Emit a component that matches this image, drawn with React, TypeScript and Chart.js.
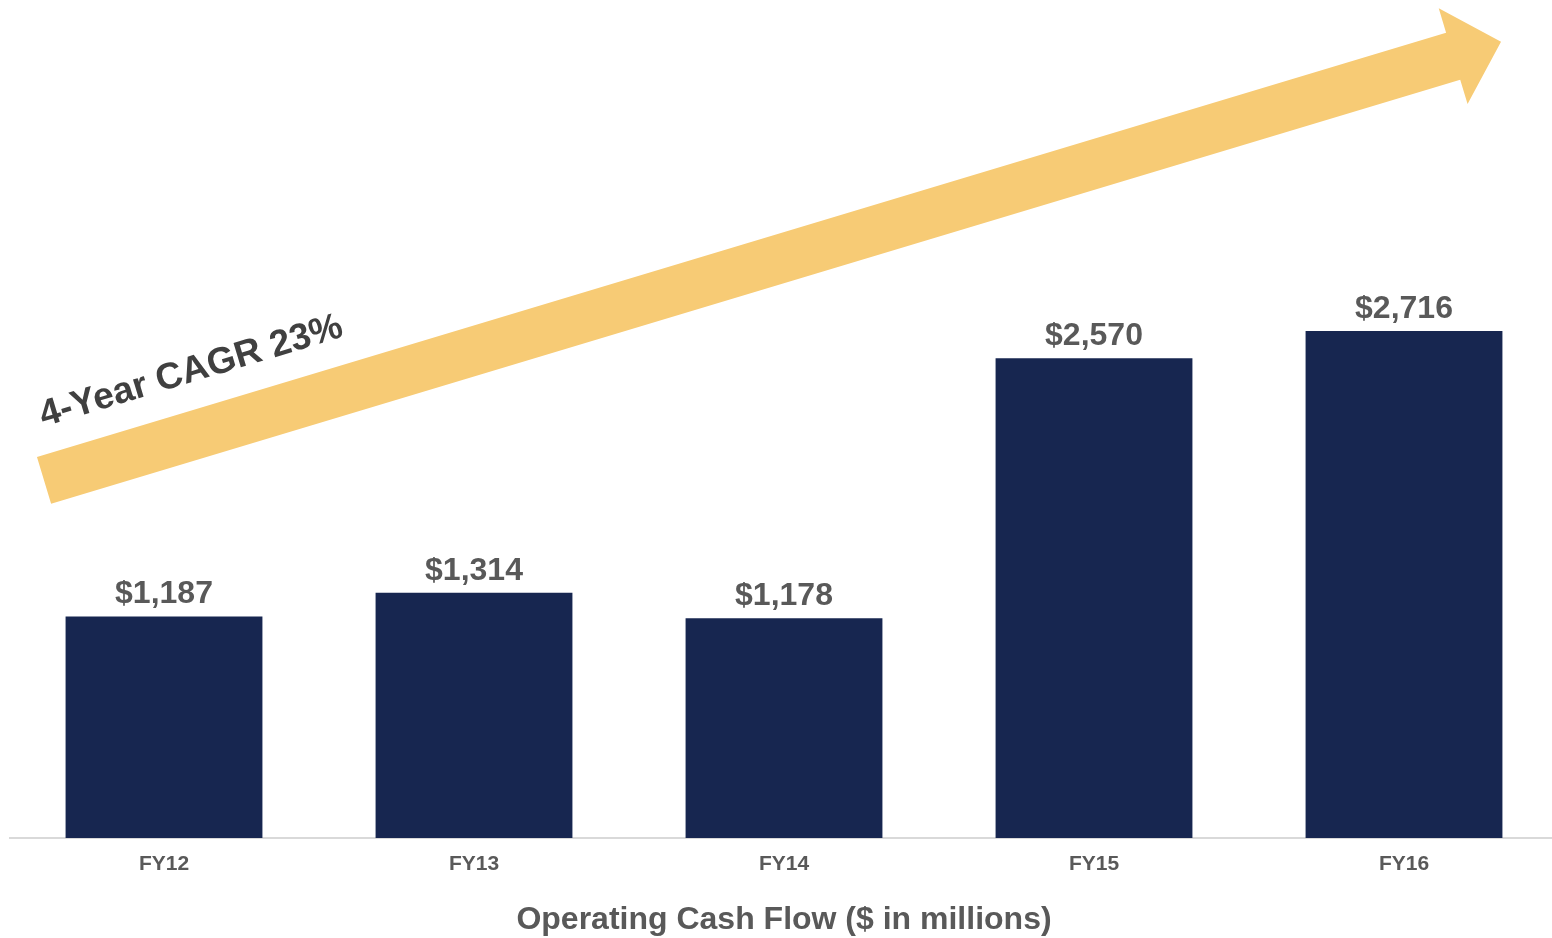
import React, { useEffect, useRef } from "react";
import { Chart, registerables } from "chart.js";

Chart.register(...registerables);

const categories = ["FY12", "FY13", "FY14", "FY15", "FY16"];
const operatingCashFlow = [1187, 1314, 1178, 2570, 2716];
const axisTitle = "Operating Cash Flow ($ in millions)";
const arrowLabel = "4-Year CAGR 23%";
// arrow end points in data space (category index, value)
const arrowTail = { x: -0.387, y: 1916 };
const arrowTip = { x: 4.313, y: 4266 };
const yMax = 4490;

const FONT = "'Liberation Sans', Arial, sans-serif";
const BAR_COLOR = "#172650";
const ARROW_COLOR = "#f7cb75";
const LABEL_COLOR = "#595959";

const formatMoney = (v: number) =>
  "$" + String(v).replace(/\B(?=(\d{3})+(?!\d))/g, ",");

const arrowPlugin = {
  id: "cagrArrow",
  beforeDatasetsDraw(chart: any) {
    const { ctx, scales } = chart;
    const xs = scales.x;
    const ys = scales.y;
    const tx = xs.getPixelForValue(arrowTail.x);
    const ty = ys.getPixelForValue(arrowTail.y);
    const px = xs.getPixelForValue(arrowTip.x);
    const py = ys.getPixelForValue(arrowTip.y);
    const dx = px - tx;
    const dy = py - ty;
    const len = Math.sqrt(dx * dx + dy * dy);
    const ux = dx / len;
    const uy = dy / len;
    const nx = uy;
    const ny = -ux;
    const sw = 24.5;
    const hw = 50;
    const hl = 50;
    const bx = tx + ux * (len - hl);
    const by = ty + uy * (len - hl);
    ctx.save();
    ctx.fillStyle = ARROW_COLOR;
    ctx.beginPath();
    ctx.moveTo(tx + nx * sw, ty + ny * sw);
    ctx.lineTo(bx + nx * sw, by + ny * sw);
    ctx.lineTo(bx + nx * hw, by + ny * hw);
    ctx.lineTo(px, py);
    ctx.lineTo(bx - nx * hw, by - ny * hw);
    ctx.lineTo(bx - nx * sw, by - ny * sw);
    ctx.lineTo(tx - nx * sw, ty - ny * sw);
    ctx.closePath();
    ctx.fill();
    // label along the arrow
    const lx = tx + ux * 15 + nx * 51.5;
    const ly = ty + uy * 15 + ny * 51.5;
    ctx.translate(lx, ly);
    ctx.rotate(Math.atan2(dy, dx));
    ctx.fillStyle = "#404040";
    ctx.font = `bold 37px ${FONT}`;
    ctx.textAlign = "left";
    ctx.textBaseline = "alphabetic";
    ctx.fillText(arrowLabel, 0, 0);
    ctx.restore();
  },
};

const valueLabelPlugin = {
  id: "valueLabels",
  afterDatasetsDraw(chart: any) {
    const { ctx } = chart;
    const meta = chart.getDatasetMeta(0);
    ctx.save();
    ctx.fillStyle = LABEL_COLOR;
    ctx.font = `bold 32px ${FONT}`;
    ctx.textAlign = "center";
    ctx.textBaseline = "alphabetic";
    meta.data.forEach((el: any, i: number) => {
      ctx.fillText(formatMoney(operatingCashFlow[i]), el.x, el.y - 13);
    });
    ctx.restore();
  },
};

export default function App() {
  const canvasRef = useRef<HTMLCanvasElement | null>(null);

  useEffect(() => {
    if (!canvasRef.current) return;
    const chart = new Chart(canvasRef.current, {
      type: "bar",
      data: {
        labels: categories,
        datasets: [
          {
            data: operatingCashFlow,
            backgroundColor: BAR_COLOR,
            borderWidth: 0,
            barPercentage: 0.635,
            categoryPercentage: 1,
          },
        ],
      },
      options: {
        animation: false,
        responsive: true,
        maintainAspectRatio: false,
        layout: { padding: 0 },
        plugins: {
          legend: { display: false },
          tooltip: { enabled: false },
        },
        scales: {
          x: {
            grid: { display: false },
            border: { display: true, color: "#d9d9d9", width: 2 },
            ticks: {
              color: LABEL_COLOR,
              font: { family: FONT, size: 21, weight: "bold" },
              padding: 6,
            },
            title: {
              display: true,
              text: axisTitle,
              color: LABEL_COLOR,
              font: { family: FONT, size: 32, weight: "bold" },
              padding: { top: 0, bottom: -1.5 },
            },
            afterFit(scale: any) {
              scale.height = 100;
            },
          },
          y: { display: false, min: 0, max: yMax },
        },
      } as any,
      plugins: [arrowPlugin, valueLabelPlugin],
    });
    return () => chart.destroy();
  }, []);

  return (
    <div
      style={{
        position: "fixed",
        left: 0,
        top: 0,
        width: 1552,
        height: 938,
        overflow: "hidden",
        background: "#ffffff",
      }}
    >
      <div style={{ position: "absolute", left: 9, top: 0, width: 1550, height: 938 }}>
        <canvas ref={canvasRef} />
      </div>
    </div>
  );
}
